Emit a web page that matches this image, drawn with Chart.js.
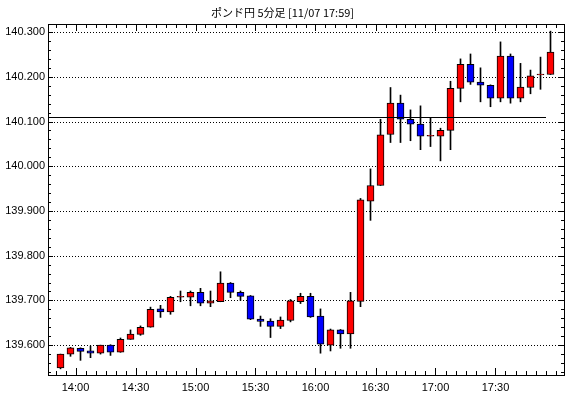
<!DOCTYPE html>
<html>
<head>
<meta charset="utf-8">
<script src="https://cdn.jsdelivr.net/npm/chart.js@4"></script>
<style>
    html, body { margin: 0; padding: 0; background: #fff; }
    #wrap { width: 570px; height: 398px; }
</style>
</head>
<body>
<div id="wrap"><canvas id="myChart" width="570" height="398"></canvas></div>
<script>
// 5分足 (13:50 - 17:55)
const times = [
    '13:50', '13:55', '14:00', '14:05', '14:10', '14:15', '14:20', '14:25', '14:30', '14:35',
    '14:40', '14:45', '14:50', '14:55', '15:00', '15:05', '15:10', '15:15', '15:20', '15:25',
    '15:30', '15:35', '15:40', '15:45', '15:50', '15:55', '16:00', '16:05', '16:10', '16:15',
    '16:20', '16:25', '16:30', '16:35', '16:40', '16:45', '16:50', '16:55', '17:00', '17:05',
    '17:10', '17:15', '17:20', '17:25', '17:30', '17:35', '17:40', '17:45', '17:50', '17:55'
];
const opens = [
    139.549, 139.580, 139.593, 139.587, 139.582, 139.600, 139.584, 139.613, 139.624, 139.640,
    139.681, 139.674, 139.707, 139.707, 139.718, 139.694, 139.697, 139.739, 139.718, 139.710,
    139.658, 139.654, 139.642, 139.655, 139.697, 139.709, 139.665, 139.600, 139.634, 139.625,
    139.698, 139.922, 139.957, 140.071, 140.141, 140.105, 140.094, 140.067, 140.067, 140.080,
    140.174, 140.228, 140.188, 140.181, 140.152, 140.246, 140.152, 140.176, 140.204, 140.205
];
const closes = [
    139.580, 139.594, 139.586, 139.582, 139.600, 139.584, 139.613, 139.625, 139.640, 139.680,
    139.674, 139.707, 139.707, 139.718, 139.694, 139.699, 139.739, 139.718, 139.709, 139.658,
    139.653, 139.642, 139.656, 139.699, 139.709, 139.663, 139.602, 139.634, 139.625, 139.699,
    139.925, 139.957, 140.070, 140.141, 140.105, 140.094, 140.067, 140.067, 140.080, 140.174,
    140.228, 140.188, 140.181, 140.152, 140.246, 140.152, 140.177, 140.202, 140.206, 140.255
];
const highs = [
    139.580, 139.595, 139.594, 139.598, 139.600, 139.601, 139.616, 139.634, 139.643, 139.685,
    139.689, 139.709, 139.721, 139.721, 139.727, 139.721, 139.764, 139.740, 139.721, 139.711,
    139.665, 139.659, 139.663, 139.702, 139.716, 139.716, 139.681, 139.636, 139.635, 139.718,
    139.928, 139.994, 140.105, 140.176, 140.159, 140.126, 140.135, 140.109, 140.085, 140.190,
    140.240, 140.251, 140.220, 140.182, 140.278, 140.251, 140.230, 140.215, 140.244, 140.302
];
const lows = [
    139.547, 139.575, 139.566, 139.572, 139.580, 139.577, 139.584, 139.613, 139.622, 139.640,
    139.662, 139.669, 139.697, 139.688, 139.688, 139.686, 139.697, 139.706, 139.700, 139.657,
    139.642, 139.617, 139.637, 139.652, 139.693, 139.662, 139.582, 139.587, 139.593, 139.593,
    139.686, 139.879, 139.957, 140.053, 140.053, 140.057, 140.037, 140.044, 140.012, 140.037,
    140.144, 140.183, 140.144, 140.133, 140.144, 140.141, 140.144, 140.162, 140.172, 140.205
];
const yTicks = [139.6, 139.7, 139.8, 139.9, 140.0, 140.1, 140.2, 140.3];
const timeLabels = ['14:00', '14:30', '15:00', '15:30', '16:00', '16:30', '17:00', '17:30'];
const refLevel = 140.110;

const UP = '#ff0000';
const DOWN = '#0000ff';
const FONT = 'Liberation Sans, Arial, sans-serif';

const bodies = times.map((t, i) => ({ x: i, y: [opens[i], closes[i]] }));
const wicks = times.map((t, i) => ({ x: i, y: [lows[i], highs[i]] }));

// 枠・目盛り・点線
const framePlugin = {
    id: 'frame',
    beforeDatasetsDraw(chart) {
        const { ctx, chartArea: a, scales: { x, y } } = chart;
        const seg = (x1, y1, x2, y2) => {
            ctx.beginPath();
            ctx.moveTo(x1, y1);
            ctx.lineTo(x2, y2);
            ctx.stroke();
        };
        ctx.save();
        ctx.strokeStyle = '#000';
        ctx.lineWidth = 1;

        ctx.setLineDash([1, 2]);
        for (const v of yTicks) {
            const py = Math.round(y.getPixelForValue(v)) + 0.5;
            seg(a.left, py, a.right, py);
        }
        ctx.setLineDash([]);

        ctx.strokeRect(a.left + 0.5, a.top + 0.5, a.right - a.left - 1, a.bottom - a.top - 1);

        // y 目盛り (0.02 刻み)
        for (let i = 0; i <= 38; i++) {
            const v = 139.54 + i * 0.02;
            const py = Math.round(y.getPixelForValue(v)) + 0.5;
            const major = Math.abs(v * 10 - Math.round(v * 10)) < 1e-6;
            const len = major ? 5 : 3;
            seg(a.left, py, a.left + len, py);
            seg(a.right - 1, py, a.right - 1 - len, py);
        }
        // x 目盛り (5分毎)
        for (let k = 0; k <= times.length; k++) {
            const px = Math.round(x.getPixelForValue(k - 0.5)) + 0.5;
            const major = timeLabels.includes(times[k]);
            const len = major ? 7 : 4;
            seg(px, a.bottom - 1, px, a.bottom - 1 - len);
            seg(px, a.top, px, a.top + len);
        }
        ctx.restore();
    },
    afterDatasetsDraw(chart) {
        const { ctx, chartArea: a, scales: { x, y } } = chart;
        const py = Math.round(y.getPixelForValue(refLevel)) + 0.5;
        ctx.save();
        ctx.strokeStyle = '#000';
        ctx.lineWidth = 1;
        ctx.beginPath();
        ctx.moveTo(a.left, py);
        ctx.lineTo(Math.round(x.getPixelForValue(times.length - 1.5)), py);
        ctx.stroke();
        ctx.restore();
    }
};

const config = {
    type: 'bar',
    data: {
        datasets: [
            {
                label: 'body',
                data: bodies,
                grouped: false,
                barThickness: 7,
                minBarLength: 1,
                backgroundColor: opens.map((o, i) => closes[i] >= o ? UP : DOWN),
                borderColor: '#000',
                borderWidth: 1,
                borderSkipped: false
            },
            {
                label: 'wick',
                data: wicks,
                grouped: false,
                barThickness: 1,
                backgroundColor: '#000',
                borderWidth: 0
            }
        ]
    },
    options: {
        responsive: false,
        animation: false,
        events: [],
        layout: { padding: { left: 0, right: 5, top: 0, bottom: 0 } },
        scales: {
            x: {
                type: 'linear',
                offset: false,
                min: -1.25,
                max: 50.45,
                grid: { display: false, drawTicks: false },
                border: { display: false },
                afterBuildTicks: axis => {
                    axis.ticks = timeLabels.map(t => ({ value: times.indexOf(t) - 0.5 }));
                },
                afterFit: axis => { axis.height = 22; },
                ticks: {
                    autoSkip: false,
                    maxRotation: 0,
                    padding: 5,
                    color: '#000',
                    font: { family: FONT, size: 11 },
                    callback: v => times[Math.round(v + 0.5)]
                }
            },
            y: {
                type: 'linear',
                min: 139.531,
                max: 140.318,
                grid: { display: false, drawTicks: false },
                border: { display: false },
                afterBuildTicks: axis => {
                    axis.ticks = yTicks.map(v => ({ value: v }));
                },
                afterFit: axis => { axis.width = 48; },
                ticks: {
                    padding: 3,
                    color: '#000',
                    font: { family: FONT, size: 11 },
                    callback: v => v.toFixed(3)
                }
            }
        },
        plugins: {
            legend: { display: false },
            tooltip: { enabled: false },
            title: {
                display: true,
                text: 'ポンド円 5分足 [11/07 17:59]',
                color: '#000',
                font: { family: 'Noto Sans CJK JP', size: 11, weight: 'normal', lineHeight: 1.2 },
                padding: { top: 6, bottom: 4.8 }
            }
        }
    },
    plugins: [framePlugin]
};

new Chart(document.getElementById('myChart'), config);
</script>
</body>
</html>
